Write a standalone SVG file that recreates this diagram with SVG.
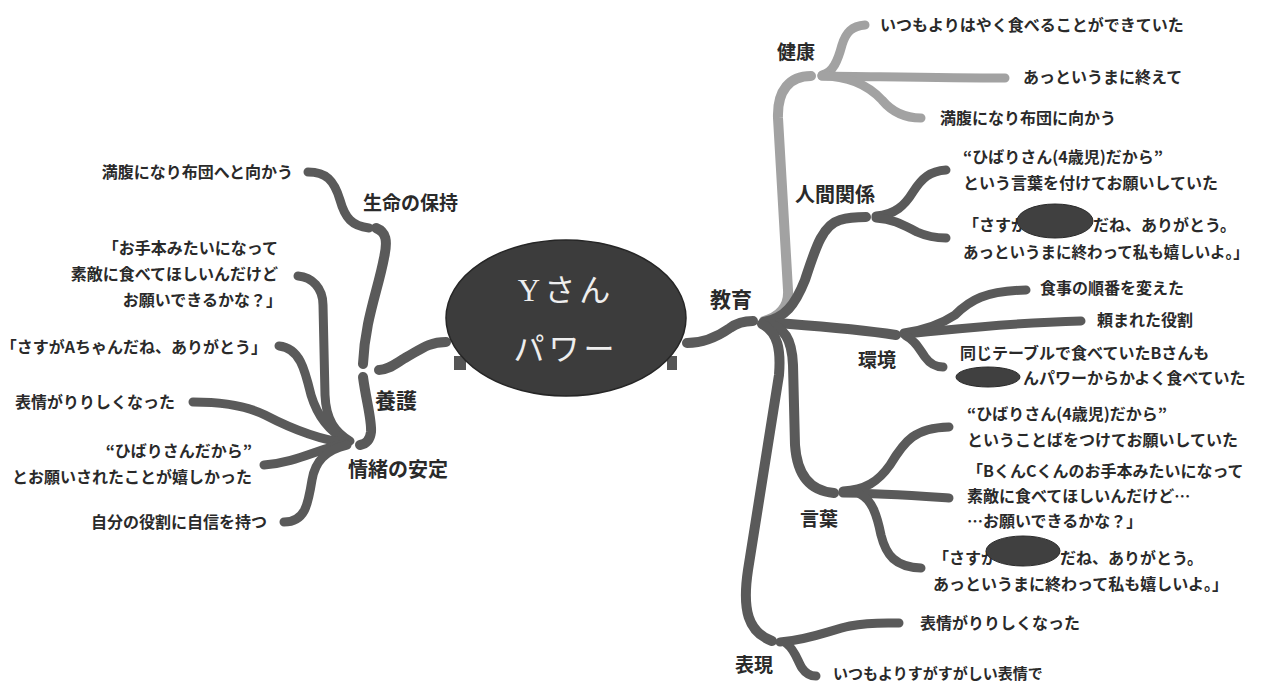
<svg xmlns="http://www.w3.org/2000/svg" width="1262" height="684" viewBox="0 0 1262 684">
<style>
.c{fill:none;stroke:#5a5a5a;stroke-width:10;stroke-linecap:round;stroke-linejoin:round}
.l{fill:none;stroke:#5a5a5a;stroke-width:9;stroke-linecap:round}
.g{stroke:#a2a2a2}
text{font-family:"Noto Sans CJK JP","Noto Sans",sans-serif;font-weight:700;fill:#2a2a2a}
.t{font-size:16px}
.b{font-size:19px}
.e{text-anchor:end}
.red{fill:#404040;stroke:#2a2a2a;stroke-width:1}
</style>
<rect width="1262" height="684" fill="#ffffff"/>
<g id="connectors">
<path class="c" d="M446,342 C428,342 420,350 405,358 C395,364 388,370 379,370"/>
<path class="c" d="M363,364 C365,320 378,290 384,258 C388,240 386,232 376,228"/>
<path class="l" d="M369,228 C352,226 345,218 340,200 C334,180 326,172 308,172"/>
<path class="c" d="M363,377 C366,400 372,420 371,432 C370,440 366,444 360,445"/>
<path class="l" d="M350,441 C335,432 326,420 325,395 L323,305 C323,288 312,277 298,276"/>
<path class="l" d="M347,441 C330,432 318,418 311,395 C305,370 300,348 279,346"/>
<path class="l" d="M347,443 C320,440 290,428 265,415 C245,405 220,402 193,402"/>
<path class="l" d="M347,444 C320,447 300,462 264,465"/>
<path class="l" d="M347,445 C325,450 315,462 312,480 C308,505 305,522 284,522"/>
<path class="c" d="M687,343 C705,343 720,335 730,328 C738,322 745,321 753,321"/>
<path class="c g" d="M764,321 C782,316 789,305 788,290 L778,118 C777,90 790,76 811,76"/>
<path class="l g" d="M822,75 C833,73 838,60 842,45 C846,32 852,26 865,25"/>
<path class="l g" d="M822,76 C900,77 950,78 1005,78"/>
<path class="l g" d="M822,76 C850,76 868,85 882,100 C892,112 905,118 921,118"/>
<path class="c" d="M764,322 C785,318 795,305 805,280 C815,250 822,225 840,220 C850,217 858,217 866,217"/>
<path class="l" d="M876,216 C895,215 905,205 913,192 C922,178 930,171 946,170"/>
<path class="l" d="M876,218 C895,219 905,226 917,232 C926,236 935,238 946,238"/>
<path class="c" d="M764,322 C800,325 850,328 896,335"/>
<path class="l" d="M904,333 C925,330 940,325 955,315 C970,300 985,291 1026,290"/>
<path class="l" d="M904,334 C950,330 1000,323 1081,321"/>
<path class="l" d="M906,336 C915,340 920,350 925,357 C930,364 935,367 943,367"/>
<path class="c" d="M764,323 C785,326 792,340 793,365 L795,445 C797,475 810,491 834,493"/>
<path class="l" d="M843,491 C865,490 878,482 890,465 C905,440 915,428 949,427"/>
<path class="l" d="M843,493 C880,493 920,496 949,498"/>
<path class="l" d="M860,494 C872,500 877,515 881,535 C886,555 895,567 921,568"/>
<path class="c" d="M762,324 C778,332 781,350 779,375 L748,570 C742,610 748,632 772,641"/>
<path class="l" d="M780,642 C810,640 830,630 850,626 C870,622 885,623 899,623"/>
<path class="l" d="M787,644 C795,650 798,662 802,668 C806,674 810,676 816,676"/>
</g>
<g id="center">
<rect x="454" y="356" width="12" height="14" fill="#555"/>
<rect x="667" y="356" width="10" height="14" fill="#555"/>
<ellipse cx="566" cy="318" rx="120" ry="78" fill="#3c3c3c" stroke="#262626" stroke-width="1.5"/>
<text x="566" y="301" text-anchor="middle" style="font-size:31px;font-weight:400;fill:#eeeeee;letter-spacing:4px"><tspan font-family="Liberation Serif">Y</tspan>さん</text>
<text x="566" y="360" text-anchor="middle" style="font-size:31px;font-weight:400;fill:#eeeeee;letter-spacing:4px">パワー</text>
</g>
<g id="n-yogo"><text x="375" y="408" style="font-size:21px">養護</text></g>
<g id="n-seimei"><text class="b" x="363" y="210">生命の保持</text></g>
<g id="n-seimei-1"><text class="t e" x="293" y="178">満腹になり布団へと向かう</text></g>
<g id="n-jocho"><text x="348" y="477" style="font-size:20px">情緒の安定</text></g>
<g id="n-jocho-1">
<text class="t e" x="278" y="254">「お手本みたいになって</text>
<text class="t e" x="278" y="280">素敵に食べてほしいんだけど</text>
<text class="t e" x="282" y="306">お願いできるかな？」</text>
</g>
<g id="n-jocho-2"><text class="t e" x="267" y="353">「さすがAちゃんだね、ありがとう」</text></g>
<g id="n-jocho-3"><text class="t e" x="175" y="408">表情がりりしくなった</text></g>
<g id="n-jocho-4">
<text class="t e" x="252" y="457">“ひばりさんだから”</text>
<text class="t e" x="252" y="483">とお願いされたことが嬉しかった</text>
</g>
<g id="n-jocho-5"><text class="t e" x="267" y="528">自分の役割に自信を持つ</text></g>
<g id="n-kyoiku"><text x="710" y="307" style="font-size:21px">教育</text></g>
<g id="n-kenko"><text class="b" x="777" y="59">健康</text></g>
<g id="n-kenko-1"><text class="t" x="880" y="31">いつもよりはやく食べることができていた</text></g>
<g id="n-kenko-2"><text class="t" x="1023" y="83">あっというまに終えて</text></g>
<g id="n-kenko-3"><text class="t" x="940" y="124">満腹になり布団に向かう</text></g>
<g id="n-ningen"><text x="795" y="202" style="font-size:20px">人間関係</text></g>
<g id="n-ningen-1">
<text class="t" x="963" y="163">“ひばりさん(4歳児)だから”</text>
<text class="t" x="963" y="189">という言葉を付けてお願いしていた</text>
</g>
<g id="n-ningen-2">
<text class="t" x="963" y="231">「さすが</text>
<ellipse class="red" cx="1055" cy="221" rx="38" ry="17"/>
<text class="t" x="1093" y="231">だね、ありがとう。</text>
<text class="t" x="963" y="258" style="font-size:15.5px">あっというまに終わって私も嬉しいよ。」</text>
</g>
<g id="n-kankyo"><text class="b" x="858" y="367">環境</text></g>
<g id="n-kankyo-1"><text class="t" x="1040" y="294">食事の順番を変えた</text></g>
<g id="n-kankyo-2"><text class="t" x="1097" y="326">頼まれた役割</text></g>
<g id="n-kankyo-3">
<text class="t" x="960" y="359">同じテーブルで食べていたBさんも</text>
<ellipse class="red" cx="988" cy="377" rx="32" ry="10"/>
<text class="t" x="1023" y="384">んパワーからかよく食べていた</text>
</g>
<g id="n-kotoba"><text class="b" x="800" y="526">言葉</text></g>
<g id="n-kotoba-1">
<text class="t" x="967" y="420">“ひばりさん(4歳児)だから”</text>
<text class="t" x="967" y="446">ということばをつけてお願いしていた</text>
</g>
<g id="n-kotoba-2">
<text class="t" x="967" y="477">「BくんCくんのお手本みたいになって</text>
<text class="t" x="967" y="502">素敵に食べてほしいんだけど…</text>
<text class="t" x="967" y="527">…お願いできるかな？」</text>
</g>
<g id="n-kotoba-3">
<text class="t" x="933" y="564">「さすが</text>
<ellipse class="red" cx="1023" cy="551" rx="37" ry="15"/>
<text class="t" x="1060" y="564">だね、ありがとう。</text>
<text class="t" x="933" y="590">あっというまに終わって私も嬉しいよ。」</text>
</g>
<g id="n-hyogen"><text class="b" x="735" y="672">表現</text></g>
<g id="n-hyogen-1"><text class="t" x="920" y="629">表情がりりしくなった</text></g>
<g id="n-hyogen-2"><text class="t" x="833" y="679" style="font-size:15px">いつもよりすがすがしい表情で</text></g>
</svg>
